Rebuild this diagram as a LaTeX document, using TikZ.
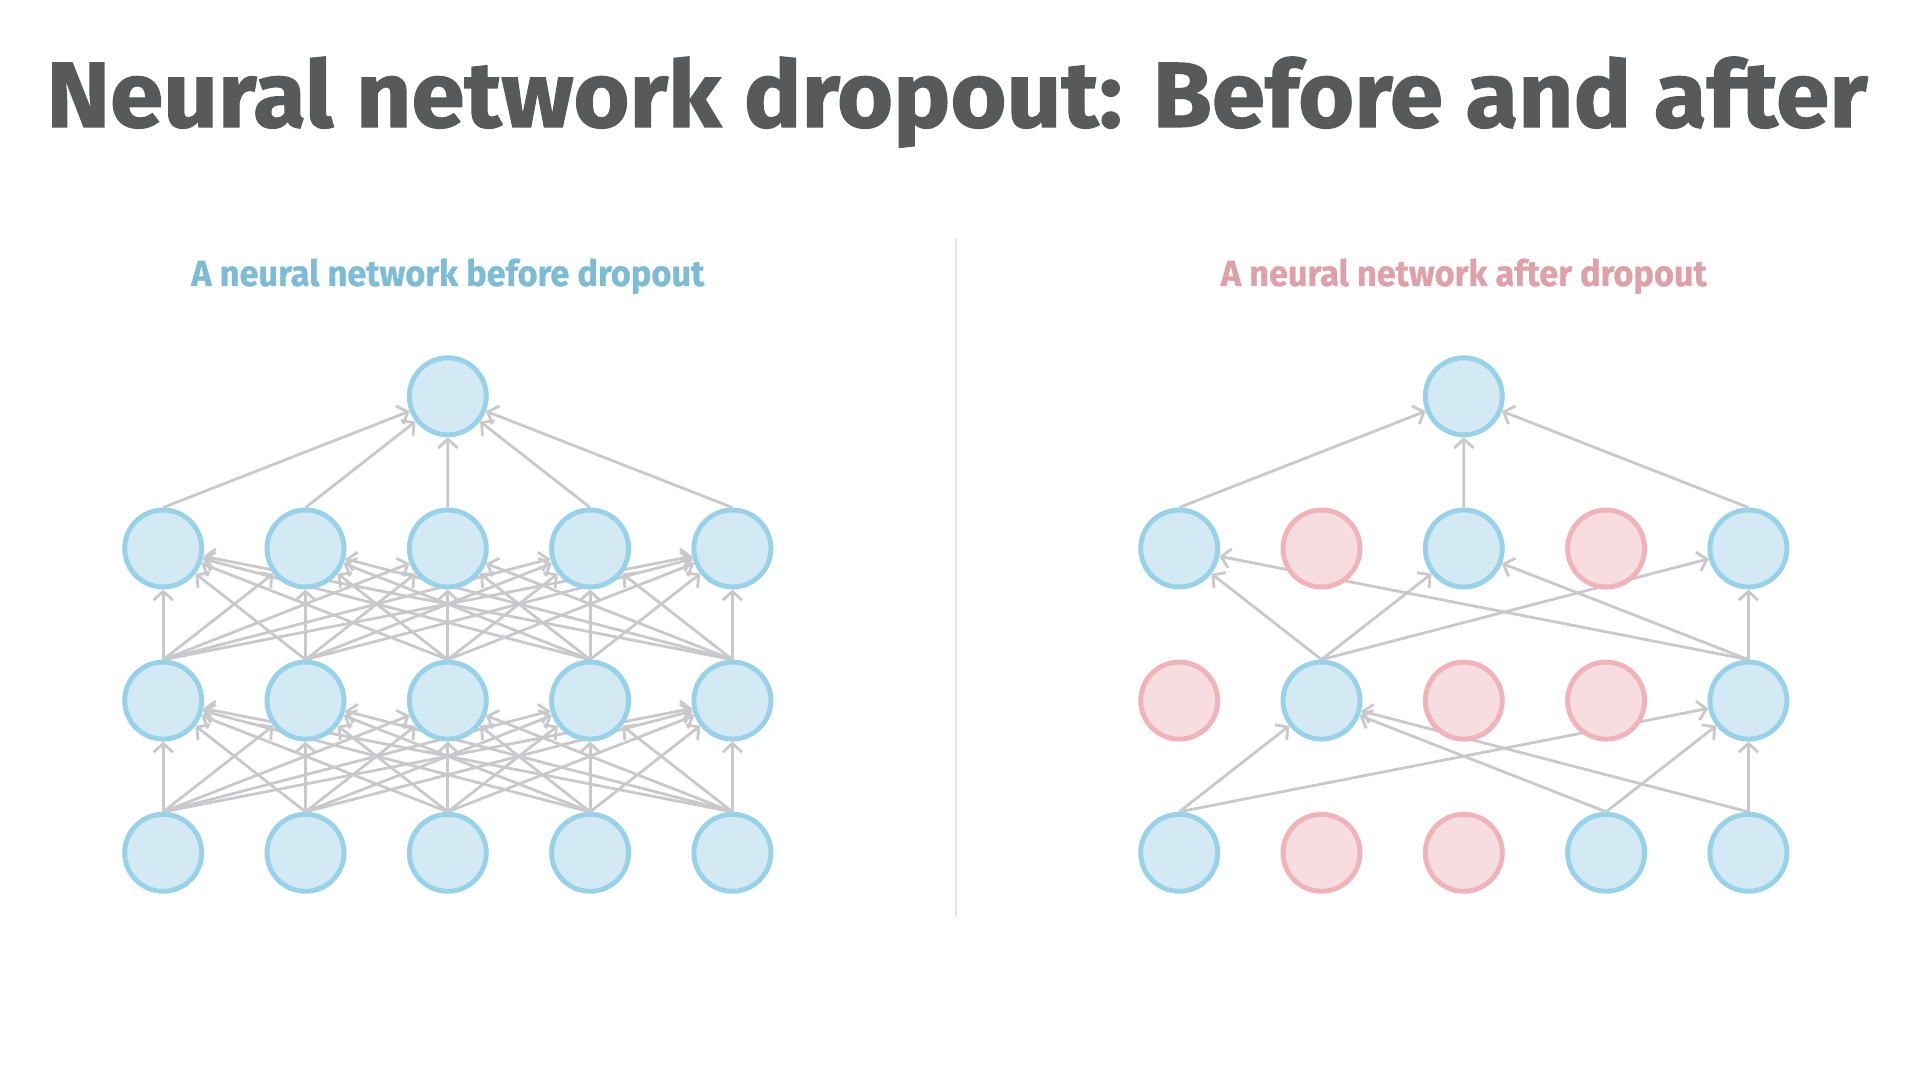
\documentclass[tikz,border=0pt]{standalone}
\usepackage{fontspec}
\setmainfont{Fira Sans}
\usepackage{graphicx}
\usetikzlibrary{arrows.meta, positioning}
\pgfdeclarelayer{background}
\pgfsetlayers{background,main}
\definecolor{titlegray}{HTML}{58595B}
\definecolor{headblue}{HTML}{7DBCD4}
\definecolor{headpink}{HTML}{DFA1A9}
\definecolor{nodeblue}{HTML}{98D2E8}
\definecolor{fillblue}{HTML}{D3EAF4}
\definecolor{nodepink}{HTML}{EFB3B8}
\definecolor{fillpink}{HTML}{F7DDDF}
\definecolor{linkgray}{HTML}{C9C9CB}
\definecolor{rulegray}{HTML}{E2E2E2}

\begin{document}
\begin{tikzpicture}[
		unit/.style={circle, draw=nodeblue, fill=fillblue, line width=2.8pt, minimum size=1.54cm, inner sep=0pt},
		dropped/.style={unit, draw=nodepink, fill=fillpink},
		link/.style={draw=linkgray, line width=1.6pt, -{Straight Barb[length=5pt, width=11pt]}},
		heading/.style={anchor=base, inner sep=0pt, font=\bfseries}
	]
	\useasboundingbox (0,0) rectangle (38.48,21.4);
	% Title
	\node[heading, text=titlegray] (title) at (19.14,18.86) {\resizebox{36.42cm}{\height}{\fontsize{52.7}{60}\selectfont\addfontfeatures{FakeBold=1.2}Neural network dropout: Before and after}};
	\draw[rulegray, line width=1.2pt] (19.12,16.62) -- (19.12,3.07);
	% Before dropout
	\begin{scope}[shift={(3.264,0)}]
		\node[heading, text=headblue] (beforehead) at (5.692,15.68) {\resizebox{10.26cm}{\height}{\fontsize{20.6}{24}\selectfont\addfontfeatures{FakeBold=0.8}A neural network before dropout}};
		\foreach \i in {1,...,5}{
			\node[unit] (bi\i) at ({2.846*(\i-1)},4.344) {};
			\node[unit] (bh\i) at ({2.846*(\i-1)},7.388) {};
			\node[unit] (bg\i) at ({2.846*(\i-1)},10.43) {};
		}
		\node[unit] (bo) at (5.692,13.474) {};
		\begin{pgfonlayer}{background}
			\foreach \i in {1,...,5}{
				\foreach \j in {1,...,5}{
					\draw[link] (bi\i.north) -- (bh\j);
					\draw[link] (bh\i.north) -- (bg\j);
				}
				\draw[link] (bg\i.north) -- (bo);
			}
		\end{pgfonlayer}
	\end{scope}
	% After dropout
	\begin{scope}[shift={(23.584,0)}]
		\node[heading, text=headpink] (afterhead) at (5.692,15.68) {\resizebox{9.72cm}{\height}{\fontsize{20.6}{24}\selectfont\addfontfeatures{FakeBold=0.8}A neural network after dropout}};
		\foreach \i/\s in {1/unit,2/dropped,3/dropped,4/unit,5/unit}
			\node[\s] (ai\i) at ({2.846*(\i-1)},4.344) {};
		\foreach \i/\s in {1/dropped,2/unit,3/dropped,4/dropped,5/unit}
			\node[\s] (ah\i) at ({2.846*(\i-1)},7.388) {};
		\foreach \i/\s in {1/unit,2/dropped,3/unit,4/dropped,5/unit}
			\node[\s] (ag\i) at ({2.846*(\i-1)},10.43) {};
		\node[unit] (ao) at (5.692,13.474) {};
		\begin{pgfonlayer}{background}
			\foreach \i in {1,4,5}
				\foreach \j in {2,5}
					\draw[link] (ai\i.north) -- (ah\j);
			\foreach \i in {2,5}
				\foreach \j in {1,3,5}
					\draw[link] (ah\i.north) -- (ag\j);
			\foreach \j in {1,3,5}
				\draw[link] (ag\j.north) -- (ao);
		\end{pgfonlayer}
	\end{scope}
\end{tikzpicture}
\end{document}
